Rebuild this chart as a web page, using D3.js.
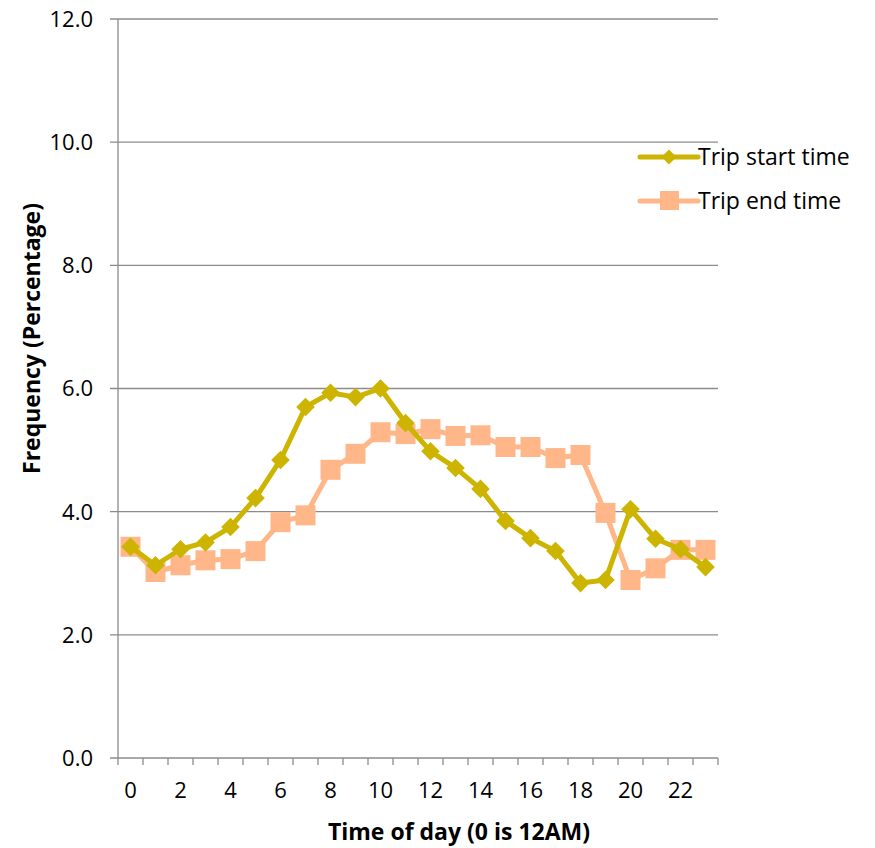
<!DOCTYPE html>
<html>
<head>
<meta charset="utf-8">
<script src="https://cdn.jsdelivr.net/npm/d3@7"></script>
<style>
  body { margin: 0; background: #fff; }
  text { font-family: "Open Sans", sans-serif; fill: #000; }
</style>
</head>
<body>
<svg id="chart" width="875" height="848"></svg>
<script>
// DATA
const hours = d3.range(0, 24);
const hourLabels = hours.map((h) => (h % 2 === 0 ? String(h) : ""));
const yTicks = [0, 2, 4, 6, 8, 10, 12];
const tripStart = [3.43, 3.13, 3.39, 3.5, 3.75, 4.22, 4.84, 5.7, 5.93, 5.86, 6.0, 5.44,
  4.98, 4.71, 4.37, 3.85, 3.57, 3.36, 2.84, 2.89, 4.04, 3.56, 3.39, 3.1];
const tripEnd = [3.43, 3.02, 3.13, 3.21, 3.23, 3.36, 3.83, 3.94, 4.68, 4.94, 5.29, 5.26,
  5.34, 5.23, 5.24, 5.05, 5.05, 4.87, 4.92, 3.98, 2.89, 3.08, 3.38, 3.38];
const seriesNames = ["Trip start time", "Trip end time"];

// CANVAS SETUP
const svg = d3.select("#chart");
const margin = { top: 19, right: 157, bottom: 90, left: 118 },
  width = 875 - margin.left - margin.right,
  height = 848 - margin.top - margin.bottom;

const g = svg.append("g").attr("transform", `translate(${margin.left},${margin.top})`);

const x = d3.scaleBand().domain(hours).range([0, width]);
const y = d3.scaleLinear().domain([0, 12]).range([height, 0]);

const gridColor = "#8c8c8c";

// gridlines
g.append("g")
  .selectAll("line")
  .data(yTicks)
  .join("line")
  .attr("x1", -8)
  .attr("x2", width)
  .attr("y1", (d) => y(d))
  .attr("y2", (d) => y(d))
  .attr("stroke", gridColor)
  .attr("stroke-width", 1.3);

// y labels
g.append("g")
  .selectAll("text")
  .data(yTicks)
  .join("text")
  .attr("x", -25)
  .attr("y", (d) => y(d))
  .attr("dy", "0.36em")
  .attr("text-anchor", "end")
  .style("font-size", "22px")
  .text((d) => d.toFixed(1));

// y axis line
g.append("line")
  .attr("x1", 0).attr("x2", 0)
  .attr("y1", 0).attr("y2", height)
  .attr("stroke", gridColor)
  .attr("stroke-width", 1.3);

// x axis
const tickPos = hours.map((h) => x(h)).concat([width]);
g.append("g")
  .selectAll("line")
  .data(tickPos)
  .join("line")
  .attr("x1", (d) => d)
  .attr("x2", (d) => d)
  .attr("y1", height)
  .attr("y2", height + 7)
  .attr("stroke", gridColor)
  .attr("stroke-width", 1.3);

g.append("g")
  .selectAll("text")
  .data(hours)
  .join("text")
  .attr("x", (d) => x(d) + x.bandwidth() / 2)
  .attr("y", height + 40)
  .attr("text-anchor", "middle")
  .style("font-size", "22px")
  .text((d, i) => hourLabels[i]);

// axis titles
svg.append("text")
  .attr("x", 459)
  .attr("y", 840)
  .attr("text-anchor", "middle")
  .style("font-size", "23px")
  .style("font-weight", "bold")
  .text("Time of day (0 is 12AM)");

svg.append("text")
  .attr("transform", `translate(40,${margin.top + height / 2 - 50}) rotate(-90)`)
  .attr("text-anchor", "middle")
  .style("font-size", "23px")
  .style("font-weight", "bold")
  .text("Frequency (Percentage)");

// SERIES
const cx = (i) => x(hours[i]) + x.bandwidth() / 2;
const line = d3.line().x((d, i) => cx(i)).y((d) => y(d));

const startColor = "#ccb400";
const endColor = "#ffb689";

g.append("path")
  .datum(tripEnd)
  .attr("d", line)
  .attr("fill", "none")
  .attr("stroke", endColor)
  .attr("stroke-width", 5)
  .attr("stroke-linejoin", "round");

g.append("g")
  .selectAll("rect")
  .data(tripEnd)
  .join("rect")
  .attr("x", (d, i) => cx(i) - 10)
  .attr("y", (d) => y(d) - 10)
  .attr("width", 20)
  .attr("height", 20)
  .attr("fill", endColor);

g.append("path")
  .datum(tripStart)
  .attr("d", line)
  .attr("fill", "none")
  .attr("stroke", startColor)
  .attr("stroke-width", 5)
  .attr("stroke-linejoin", "round");

const diamond = d3.symbol().type(d3.symbolDiamond2).size(220);
g.append("g")
  .selectAll("path")
  .data(tripStart)
  .join("path")
  .attr("d", diamond)
  .attr("transform", (d, i) => `translate(${cx(i)},${y(d)})`)
  .attr("fill", startColor);

// LEGEND
const legend = svg.append("g").attr("transform", "translate(640,157)");
const colors = [startColor, endColor];
seriesNames.forEach((name, i) => {
  const row = legend.append("g").attr("transform", `translate(0,${i * 44})`);
  row.append("line")
    .attr("x1", 0).attr("x2", 58)
    .attr("stroke", colors[i])
    .attr("stroke-width", 5)
    .attr("stroke-linecap", "round");
  if (i === 0) {
    row.append("path")
      .attr("d", d3.symbol().type(d3.symbolDiamond2).size(140))
      .attr("transform", "translate(29,0)")
      .attr("fill", colors[i]);
  } else {
    row.append("rect")
      .attr("x", 20).attr("y", -10)
      .attr("width", 19).attr("height", 19)
      .attr("fill", colors[i]);
  }
  row.append("text")
    .attr("x", 58)
    .attr("dy", "0.36em")
    .style("font-size", "23px")
    .text(name);
});
</script>
</body>
</html>
